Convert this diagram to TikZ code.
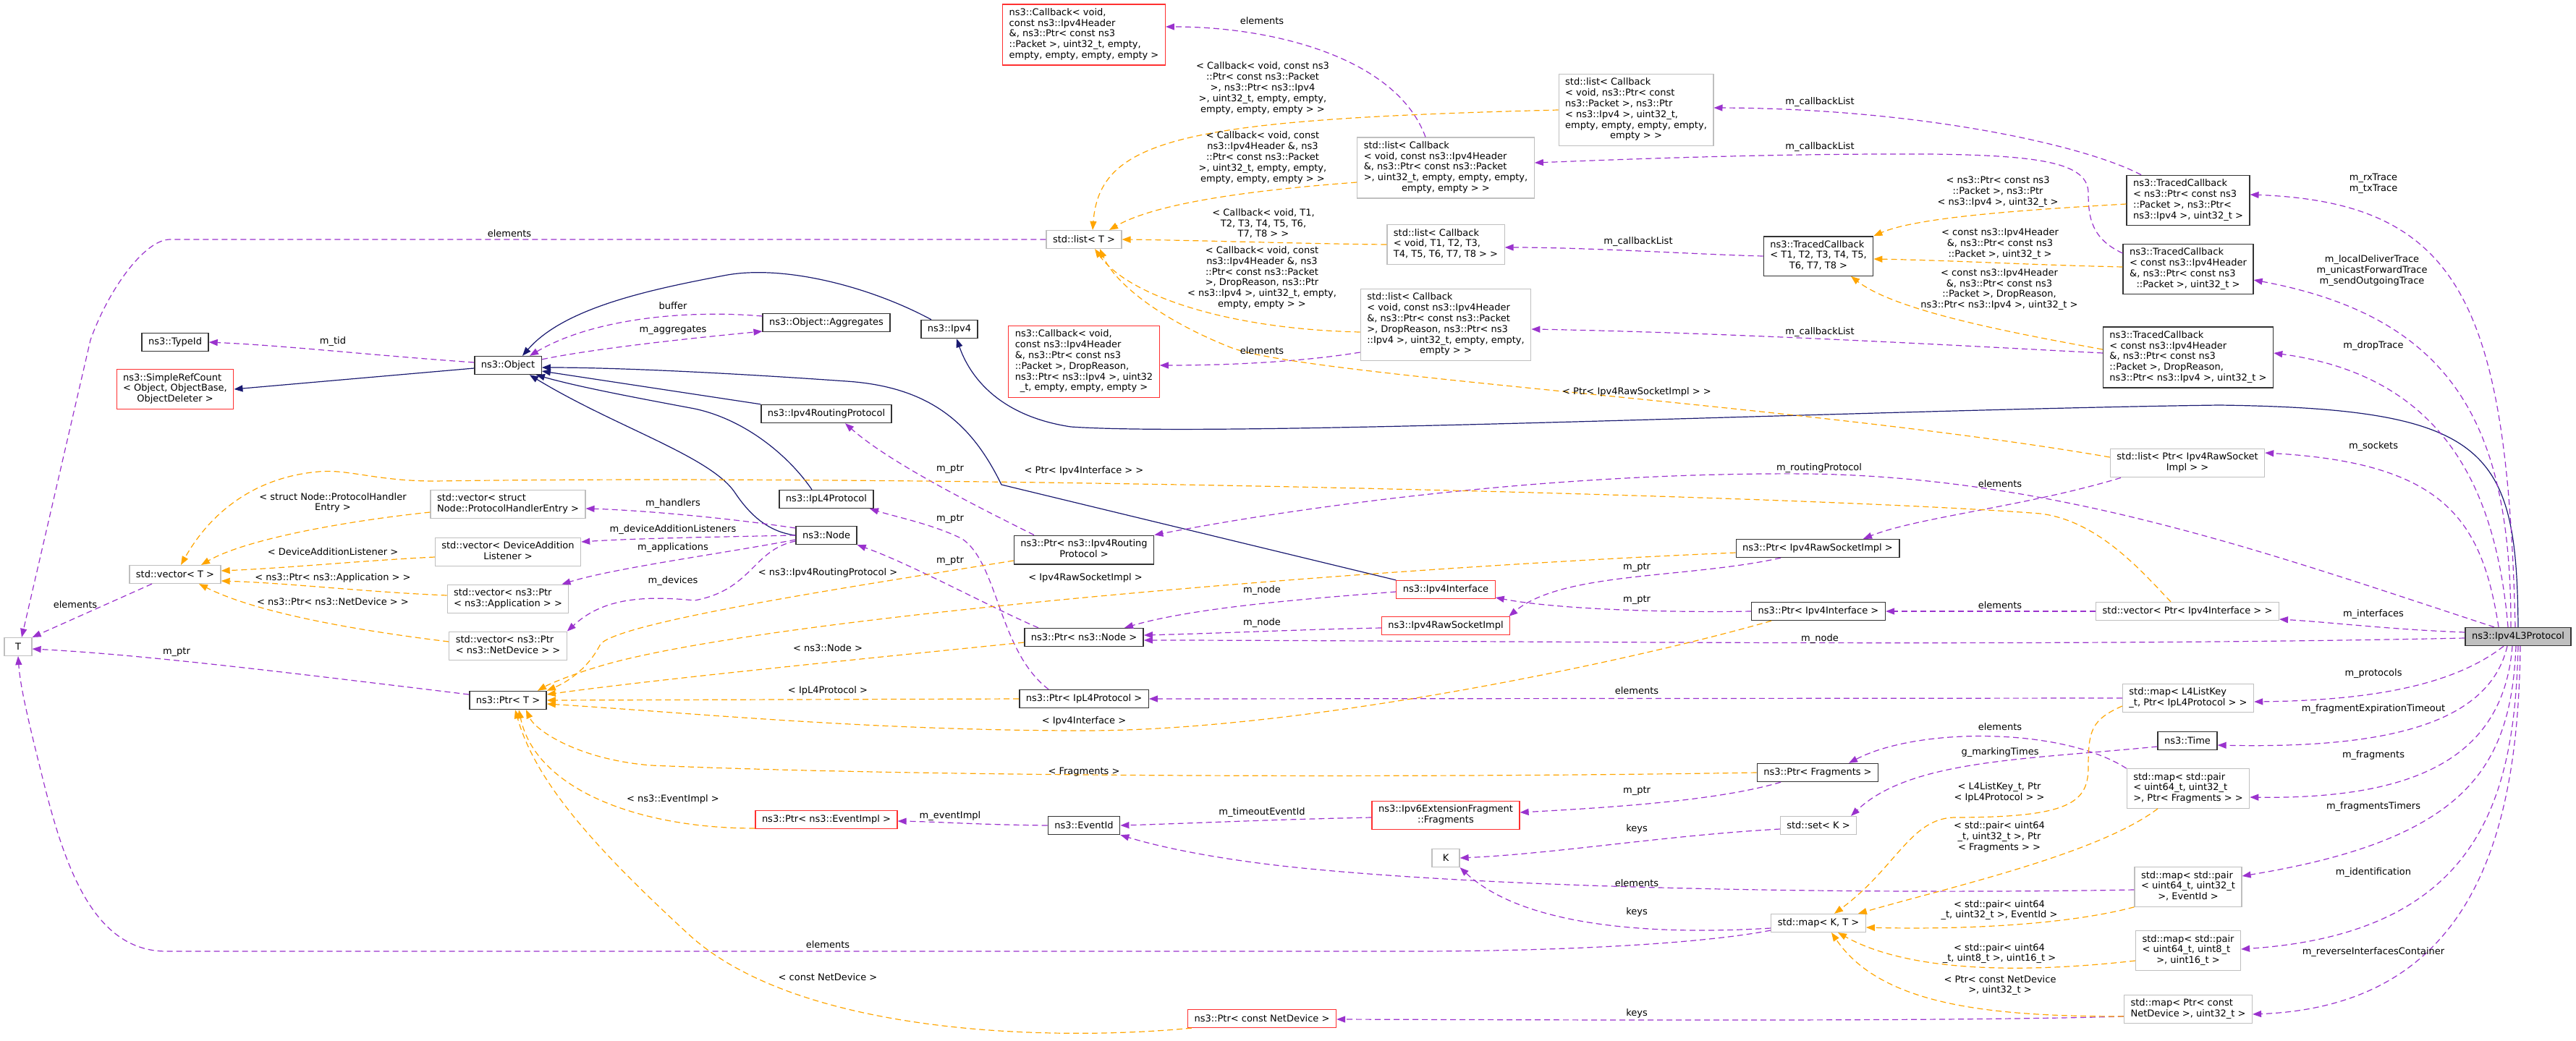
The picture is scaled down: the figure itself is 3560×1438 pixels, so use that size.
\documentclass[tikz,border=0pt]{standalone}
\usepackage{fontspec}
\setmainfont{DejaVu Sans}
\usetikzlibrary{arrows.meta}
\definecolor{inhblue}{HTML}{191970}
\definecolor{usepurple}{HTML}{9A32CD}
\definecolor{tmplorange}{HTML}{FFA500}
\definecolor{boxgray}{HTML}{BFBFBF}
\definecolor{boxred}{HTML}{FF3030}
\newcommand{\lines}[1]{\begin{tabular}{@{}l@{}}#1\end{tabular}}
\newcommand{\lastc}[1]{\multicolumn{1}{@{}c@{}}{#1}}

\begin{document}
\begin{tikzpicture}[x=1pt, y=-1pt,
  cls/.style={draw=black!80, line width=1.4pt, fill=white, font=\fontsize{13}{14.8}\selectfont,
    inner xsep=9pt, inner ysep=5pt, minimum height=25pt, minimum width=38pt},
  tpl/.style={cls, draw=boxgray, line width=1.2pt},
  undoc/.style={cls, draw=boxred, line width=1.2pt},
  focus/.style={cls, fill=boxgray},
  lbl/.style={font=\fontsize{13}{14.8}\selectfont, align=center, inner sep=0pt},
  inh/.style={draw=inhblue, line width=1.2pt, -{Triangle[length=12pt,width=9pt]}},
  member/.style={draw=usepurple, line width=1.2pt, dash pattern=on 8pt off 5pt, -{Triangle[length=12pt,width=9pt]}},
  inst/.style={member, draw=tmplorange}]
  \useasboundingbox (0,0) rectangle (3560,1438);

  % classes, right side
  \node[focus] (l3) at (3480,880) {ns3::Ipv4L3Protocol};
  \node[cls] (tcpkt) at (3024,277) {\lines{ns3::TracedCallback\\< ns3::Ptr< const ns3\\::Packet >, ns3::Ptr<\\\lastc{ns3::Ipv4 >, uint32\_t >}}};
  \node[cls] (tchdr) at (3024,372) {\lines{ns3::TracedCallback\\< const ns3::Ipv4Header\\\&, ns3::Ptr< const ns3\\\lastc{::Packet >, uint32\_t >}}};
  \node[cls] (tcdrop) at (3024,494) {\lines{ns3::TracedCallback\\< const ns3::Ipv4Header\\\&, ns3::Ptr< const ns3\\::Packet >, DropReason,\\\lastc{ns3::Ptr< ns3::Ipv4 >, uint32\_t >}}};
  \node[cls] (tcgen) at (2513,354) {\lines{ns3::TracedCallback\\< T1, T2, T3, T4, T5,\\\lastc{T6, T7, T8 >}}};
  \node[tpl] (lstpkt) at (2261,152) {\lines{std::list< Callback\\< void, ns3::Ptr< const\\ns3::Packet >, ns3::Ptr\\< ns3::Ipv4 >, uint32\_t,\\empty, empty, empty, empty,\\\lastc{empty > >}}};
  \node[tpl] (lsthdr) at (1998,232) {\lines{std::list< Callback\\< void, const ns3::Ipv4Header\\\&, ns3::Ptr< const ns3::Packet\\>, uint32\_t, empty, empty, empty,\\\lastc{empty, empty > >}}};
  \node[tpl] (lstgen) at (1998,338) {\lines{std::list< Callback\\< void, T1, T2, T3,\\\lastc{T4, T5, T6, T7, T8 > >}}};
  \node[tpl] (lstdrop) at (1998,449) {\lines{std::list< Callback\\< void, const ns3::Ipv4Header\\\&, ns3::Ptr< const ns3::Packet\\>, DropReason, ns3::Ptr< ns3\\::Ipv4 >, uint32\_t, empty, empty,\\\lastc{empty > >}}};
  \node[undoc] (cbhdr) at (1498,48) {\lines{ns3::Callback< void,\\const ns3::Ipv4Header\\\&, ns3::Ptr< const ns3\\::Packet >, uint32\_t, empty,\\\lastc{empty, empty, empty, empty >}}};
  \node[undoc] (cbdrop) at (1498,500) {\lines{ns3::Callback< void,\\const ns3::Ipv4Header\\\&, ns3::Ptr< const ns3\\::Packet >, DropReason,\\ns3::Ptr< ns3::Ipv4 >, uint32\\\lastc{\_t, empty, empty, empty >}}};
  \node[tpl] (lstT) at (1498,331) {std::list< T >};

  % classes, left side
  \node[cls] (object) at (702,505) {ns3::Object};
  \node[cls] (typeid) at (242,473) {ns3::TypeId};
  \node[undoc] (refcount) at (242,538) {\lines{ns3::SimpleRefCount\\< Object, ObjectBase,\\\lastc{ObjectDeleter >}}};
  \node[cls] (aggr) at (1142,446) {ns3::Object::Aggregates};
  \node[cls] (ipv4) at (1312,455) {ns3::Ipv4};
  \node[cls] (routing) at (1142,572) {ns3::Ipv4RoutingProtocol};
  \node[cls] (l4) at (1142,690) {ns3::IpL4Protocol};
  \node[cls] (nsnode) at (1142,740) {ns3::Node};
  \node[tpl] (vecT) at (242,794) {std::vector< T >};
  \node[tpl] (T) at (25,894) {T};
  \node[tpl] (vechandler) at (702,697) {\lines{std::vector< struct\\Node::ProtocolHandlerEntry >}};
  \node[tpl] (veclistener) at (702,763) {\lines{std::vector< DeviceAddition\\\lastc{Listener >}}};
  \node[tpl] (vecapp) at (702,828) {\lines{std::vector< ns3::Ptr\\< ns3::Application > >}};
  \node[tpl] (vecdev) at (702,893) {\lines{std::vector< ns3::Ptr\\< ns3::NetDevice > >}};
  \node[cls] (ptrT) at (702,968) {ns3::Ptr< T >};

  % classes, middle
  \node[cls] (ptrrouting) at (1498,760) {\lines{ns3::Ptr< ns3::Ipv4Routing\\\lastc{Protocol >}}};
  \node[cls] (ptrnode) at (1498,881) {ns3::Ptr< ns3::Node >};
  \node[cls] (ptrl4) at (1498,966) {ns3::Ptr< IpL4Protocol >};
  \node[undoc] (iface) at (1998,815) {ns3::Ipv4Interface};
  \node[undoc] (rawsock) at (1998,865) {ns3::Ipv4RawSocketImpl};
  \node[cls] (ptrrawsock) at (2512,758) {ns3::Ptr< Ipv4RawSocketImpl >};
  \node[cls] (ptriface) at (2513,845) {ns3::Ptr< Ipv4Interface >};
  \node[tpl] (lstsock) at (3023,640) {\lines{std::list< Ptr< Ipv4RawSocket\\\lastc{Impl > >}}};
  \node[tpl] (veciface) at (3023,845) {std::vector< Ptr< Ipv4Interface > >};
  \node[tpl] (mapl4) at (3024,965) {\lines{std::map< L4ListKey\\\_t, Ptr< IpL4Protocol > >}};
  \node[cls] (time) at (3023,1024) {ns3::Time};
  \node[tpl] (mapfrag) at (3024,1090) {\lines{std::map< std::pair\\< uint64\_t, uint32\_t\\>, Ptr< Fragments > >}};
  \node[tpl] (maptimer) at (3024,1226) {\lines{std::map< std::pair\\< uint64\_t, uint32\_t\\\lastc{>, EventId >}}};
  \node[tpl] (mapident) at (3024,1314) {\lines{std::map< std::pair\\< uint64\_t, uint8\_t\\\lastc{>, uint16\_t >}}};
  \node[tpl] (mapdev) at (3024,1395) {\lines{std::map< Ptr< const\\NetDevice >, uint32\_t >}};
  \node[cls] (ptrfrag) at (2512,1068) {ns3::Ptr< Fragments >};
  \node[undoc] (frag) at (1998,1127) {\lines{ns3::Ipv6ExtensionFragment\\\lastc{::Fragments}}};
  \node[tpl] (setK) at (2513,1141) {std::set< K >};
  \node[tpl] (K) at (1998,1186) {K};
  \node[tpl] (mapKT) at (2513,1276) {std::map< K, T >};
  \node[cls] (eventid) at (1498,1141) {ns3::EventId};
  \node[undoc] (ptrevent) at (1142,1133) {ns3::Ptr< ns3::EventImpl >};
  \node[undoc] (ptrdev) at (1744,1408) {ns3::Ptr< const NetDevice >};

  % inheritance
  \draw[inh] ([yshift=-4]object.west) -- (refcount.east);
  \draw[inh] ([xshift=-25]ipv4.north) .. controls (1200,395) and (1080,365) .. (1000,381) .. controls (900,400) and (780,425) .. ([xshift=20]object.north);
  \draw[inh] (routing.north west) -- ([yshift=-8]object.east);
  \draw[inh] ([xshift=-20]l4.north) .. controls (1090,630) and (1030,580) .. (960,565) .. controls (880,550) and (800,535) .. ([xshift=-8]object.south east);
  \draw[inh] (nsnode.west) .. controls (1060,735) and (1035,710) .. (1015,680) .. controls (980,630) and (850,590) .. ([xshift=-17]object.south east);
  \draw[inh] (iface.north west) -- (1384,670) .. controls (1345,590) and (1290,535) .. (1170,527) .. controls (1000,515) and (850,508) .. ([yshift=-3]object.east);
  \draw[inh] (l3.north) .. controls (3478,620) and (3440,565) .. (3067,560) .. controls (2600,566) and (1700,605) .. (1480,590) .. controls (1380,575) and (1340,520) .. ([xshift=10]ipv4.south);

  % members
  \draw[member] ([yshift=4]object.west) .. controls (500,490) and (400,478) .. (typeid.east);
  \draw[member] ([yshift=-5]object.north east) .. controls (820,482) and (950,468) .. ([yshift=-12]aggr.west);
  \draw[member] ([yshift=9]aggr.west) .. controls (950,428) and (820,440) .. ([xshift=30]object.north);
  \draw[member] (lstT.west) -- (235,331) .. controls (200,331) and (150,400) .. (125,470) -- ([xshift=5]T.north);
  \draw[member] ([xshift=-32]vecT.south) -- (T.north east);
  \draw[member] ([yshift=8]ptrT.west) .. controls (400,930) and (200,905) .. ([yshift=-3]T.east);
  \draw[member] ([yshift=-10]mapKT.west) .. controls (2350,1305) and (2150,1315) .. (1950,1315) -- (230,1315) .. controls (130,1315) and (90,1200) .. (60,1080) .. controls (40,1000) and (28,950) .. (T.south);
  \draw[member] ([yshift=-7]mapKT.west) .. controls (2300,1292) and (2110,1285) .. (K.south east);
  \draw[member] ([yshift=-5]setK.west) .. controls (2300,1155) and (2150,1180) .. (K.east);
  \draw[member] ([xshift=-28]lsthdr.north) .. controls (1930,80) and (1760,37) .. ([yshift=11]cbhdr.east);
  \draw[member] ([yshift=-38]lstdrop.west) .. controls (1800,500) and (1700,505) .. ([yshift=-5]cbdrop.east);
  \draw[member] ([xshift=-65]tcpkt.north) .. controls (2880,200) and (2650,150) .. ([yshift=3]lstpkt.east);
  \draw[member] ([yshift=22]tchdr.west) .. controls (2890,330) and (2886,300) .. (2886,267) .. controls (2886,225) and (2820,215) .. (2670,213) .. controls (2450,212) and (2250,220) .. ([yshift=7]lsthdr.east);
  \draw[member] (tcgen.west) .. controls (2350,352) and (2200,342) .. ([yshift=-4]lstgen.east);
  \draw[member] ([yshift=6]tcdrop.west) .. controls (2750,480) and (2400,460) .. ([yshift=-6]lstdrop.east);
  \draw[member] ([xshift=-4]l3.north) .. controls (3465,420) and (3400,280) .. ([yshift=8]tcpkt.east);
  \draw[member] ([xshift=-10]l3.north) .. controls (3470,600) and (3400,440) .. ([yshift=-15]tchdr.east);
  \draw[member] ([xshift=-14]l3.north) .. controls (3450,680) and (3380,520) .. ([yshift=6]tcdrop.east);
  \draw[member] ([xshift=-27]l3.north) .. controls (3430,720) and (3380,640) .. ([yshift=14]lstsock.east);
  \draw[member] ([xshift=-33]l3.north) .. controls (3150,770) and (2850,660) .. (2500,655) .. controls (2150,652) and (1800,700) .. (ptrrouting.north east);
  \draw[member] ([xshift=-69]ptrrouting.north) .. controls (1350,700) and (1230,640) .. ([xshift=26]routing.south);
  \draw[member] ([xshift=-49]ptrl4.north) .. controls (1380,900) and (1380,780) .. (1330,745) .. controls (1290,725) and (1240,715) .. ([xshift=60]l4.south);
  \draw[member] ([xshift=-63]ptrnode.north) .. controls (1370,840) and (1260,780) .. (nsnode.south east);
  \draw[member] ([yshift=10]nsnode.west) .. controls (1000,715) and (880,705) .. ([yshift=-6]vechandler.east);
  \draw[member] (nsnode.west) .. controls (1000,742) and (880,744) .. ([yshift=14]veclistener.east);
  \draw[member] ([yshift=-6]nsnode.west) .. controls (1000,765) and (850,785) .. ([xshift=-10]vecapp.north east);
  \draw[member] ([yshift=-8]nsnode.west) .. controls (1040,760) and (1040,815) .. (960,830) .. controls (880,822) and (830,830) .. (vecdev.north east);
  \draw[member] ([yshift=-3]iface.west) .. controls (1800,828) and (1650,840) .. ([xshift=56]ptrnode.north);
  \draw[member] ([yshift=-3]rawsock.west) .. controls (1800,870) and (1700,875) .. ([yshift=3]ptrnode.east);
  \draw[member] ([yshift=-2]l3.west) .. controls (2800,895) and (2000,885) .. ([yshift=-4]ptrnode.east);
  \draw[member] ([xshift=-51]ptrrawsock.south) .. controls (2330,800) and (2160,790) .. ([xshift=-2]rawsock.north east);
  \draw[member] (ptriface.west) .. controls (2300,847) and (2150,842) .. ([yshift=-11]iface.east);
  \draw[member] (veciface.west) -- (ptriface.east);
  \draw[member] ([xshift=-92]lstsock.south) .. controls (2800,700) and (2650,715) .. ([xshift=63]ptrrawsock.north);
  \draw[member] ([yshift=6]l3.west) .. controls (3300,870) and (3220,860) .. ([yshift=-11]veciface.east);
  \draw[member] ([xshift=-20]l3.south) .. controls (3400,940) and (3300,968) .. ([yshift=-5]mapl4.east);
  \draw[member] (mapl4.west) -- (ptrl4.east);
  \draw[member] ([xshift=-15]l3.south) .. controls (3440,1000) and (3300,1035) .. ([yshift=-6]time.east);
  \draw[member] ([xshift=-8]l3.south) .. controls (3460,1040) and (3350,1105) .. ([yshift=-12]mapfrag.east);
  \draw[member] ([xshift=-3]l3.south) .. controls (3470,1060) and (3410,1160) .. ([yshift=15]maptimer.east);
  \draw[member] (l3.south) .. controls (3475,1100) and (3430,1290) .. ([yshift=2]mapident.east);
  \draw[member] ([xshift=3]l3.south) .. controls (3480,1150) and (3420,1390) .. ([yshift=-7]mapdev.east);
  \draw[member] (mapfrag.north west) .. controls (2850,1005) and (2650,1005) .. ([xshift=43]ptrfrag.north);
  \draw[member] ([yshift=-8]time.west) .. controls (2800,1050) and (2640,1050) .. ([xshift=45]setK.north);
  \draw[member] ([xshift=-51]ptrfrag.south) .. controls (2380,1105) and (2250,1115) .. ([yshift=4]frag.east);
  \draw[member] ([yshift=-3]frag.west) .. controls (1750,1133) and (1650,1138) .. (eventid.east);
  \draw[member] (eventid.west) .. controls (1350,1140) and (1300,1136) .. ([yshift=-2]ptrevent.east);
  \draw[member] ([yshift=-4]maptimer.west) .. controls (2600,1236) and (2100,1230) .. (1800,1200) .. controls (1680,1188) and (1600,1170) .. (eventid.south east);
  \draw[member] ([yshift=-10]mapdev.west) .. controls (2700,1412) and (2200,1410) .. ([yshift=-1]ptrdev.east);

  % template instances
  \draw[inst] (lstpkt.west) .. controls (1640,165) and (1520,190) .. ([xshift=12]lstT.north);
  \draw[inst] ([yshift=-20]lsthdr.west) .. controls (1700,265) and (1590,285) .. ([xshift=35]lstT.north);
  \draw[inst] (lstgen.west) .. controls (1800,337) and (1650,332) .. (lstT.east);
  \draw[inst] ([yshift=-10]lstdrop.west) .. controls (1700,455) and (1560,410) .. ([xshift=15]lstT.south);
  \draw[inst] ([yshift=8]lstsock.west) .. controls (2500,560) and (1800,520) .. (1700,480) .. controls (1600,440) and (1540,390) .. ([xshift=22]lstT.south);
  \draw[inst] ([yshift=-5]tcpkt.west) .. controls (2800,290) and (2650,300) .. (tcgen.north east);
  \draw[inst] ([yshift=3]tchdr.west) .. controls (2800,366) and (2700,360) .. ([yshift=-4]tcgen.east);
  \draw[inst] ([yshift=11]tcdrop.west) .. controls (2780,460) and (2620,430) .. ([xshift=45]tcgen.south);
  \draw[inst] ([yshift=-11]vechandler.west) .. controls (480,720) and (340,745) .. ([xshift=36]vecT.north);
  \draw[inst] ([xshift=-23]veciface.north) .. controls (2960,790) and (2900,720) .. (2820,710) .. controls (2500,685) and (1300,655) .. (600,665) .. controls (520,665) and (480,648) .. (440,652) .. controls (350,660) and (290,710) .. ([xshift=8]vecT.north);
  \draw[inst] ([yshift=-7]veclistener.west) .. controls (500,775) and (400,785) .. ([yshift=5]vecT.east);
  \draw[inst] ([yshift=5]vecapp.west) .. controls (500,818) and (400,806) .. ([yshift=-9]vecT.east);
  \draw[inst] ([yshift=6]vecdev.west) .. controls (480,870) and (350,845) .. ([xshift=33]vecT.south);
  \draw[inst] ([yshift=-15]ptrrouting.west) .. controls (1150,815) and (860,860) .. (830,890) .. controls (815,920) and (790,940) .. (ptrT.north east);
  \draw[inst] ([yshift=-6]ptrrawsock.west) .. controls (1900,785) and (1100,850) .. (850,915) .. controls (800,928) and (760,945) .. ([xshift=41]ptrT.north);
  \draw[inst] ([yshift=-7]ptrnode.west) .. controls (1150,915) and (900,940) .. ([yshift=8]ptrT.east);
  \draw[inst] (ptrl4.west) -- (ptrT.east);
  \draw[inst] ([xshift=-65]ptriface.south) .. controls (2250,915) and (1800,1010) .. (1500,1010) .. controls (1200,1010) and (950,985) .. ([yshift=-5]ptrT.east);
  \draw[inst] (ptrfrag.west) .. controls (2000,1075) and (1300,1075) .. (900,1058) .. controls (800,1050) and (740,1010) .. ([xshift=25]ptrT.south);
  \draw[inst] ([yshift=-12]ptrevent.west) .. controls (880,1145) and (740,1090) .. ([xshift=15]ptrT.south);
  \draw[inst] ([xshift=6]ptrdev.south west) .. controls (1450,1440) and (1100,1430) .. (950,1290) .. controls (820,1170) and (740,1080) .. ([xshift=10]ptrT.south);
  \draw[inst] ([yshift=-11]mapl4.west) .. controls (2890,995) and (2886,1010) .. (2886,1060) .. controls (2886,1110) and (2860,1130) .. (2700,1130) .. controls (2640,1132) and (2620,1200) .. ([xshift=22]mapKT.north);
  \draw[inst] ([xshift=-42]mapfrag.south) .. controls (2900,1180) and (2700,1225) .. ([xshift=-11]mapKT.north east);
  \draw[inst] (maptimer.south west) .. controls (2850,1280) and (2700,1285) .. ([yshift=-6]mapKT.east);
  \draw[inst] ([yshift=-14]mapident.west) .. controls (2800,1345) and (2640,1345) .. ([xshift=27]mapKT.south);
  \draw[inst] ([yshift=-10]mapdev.west) .. controls (2750,1405) and (2600,1390) .. ([xshift=18]mapKT.south);

  % edge labels
  \node[lbl] (lb01) at (704,323) {elements};
  \node[lbl] (lb02) at (460,472) {m\_tid};
  \node[lbl] (lb03) at (930,423) {buffer};
  \node[lbl] (lb04) at (930,456) {m\_aggregates};
  \node[lbl] (lb05) at (104,836) {elements};
  \node[lbl] (lb06) at (244,901) {m\_ptr};
  \node[lbl] (lb07) at (460,695) {< struct Node::ProtocolHandler\\Entry >};
  \node[lbl] (lb08) at (460,763) {< DeviceAdditionListener >};
  \node[lbl] (lb09) at (460,799) {< ns3::Ptr< ns3::Application > >};
  \node[lbl] (lb10) at (460,832) {< ns3::Ptr< ns3::NetDevice > >};
  \node[lbl] (lb11) at (930,696) {m\_handlers};
  \node[lbl] (lb12) at (930,732) {m\_deviceAdditionListeners};
  \node[lbl] (lb13) at (930,757) {m\_applications};
  \node[lbl] (lb14) at (930,803) {m\_devices};
  \node[lbl] (lb15) at (1144,792) {< ns3::Ipv4RoutingProtocol >};
  \node[lbl] (lb16) at (1144,896) {< ns3::Node >};
  \node[lbl] (lb17) at (1144,955) {< IpL4Protocol >};
  \node[lbl] (lb18) at (930,1105) {< ns3::EventImpl >};
  \node[lbl] (lb19) at (1313,1128) {m\_eventImpl};
  \node[lbl] (lb20) at (1144,1306) {elements};
  \node[lbl] (lb21) at (1144,1351) {< const NetDevice >};
  \node[lbl] (lb22) at (1313,648) {m\_ptr};
  \node[lbl] (lb23) at (1313,717) {m\_ptr};
  \node[lbl] (lb24) at (1313,775) {m\_ptr};
  \node[lbl] (lb25) at (1498,651) {< Ptr< Ipv4Interface > >};
  \node[lbl] (lb26) at (1500,799) {< Ipv4RawSocketImpl >};
  \node[lbl] (lb27) at (1498,997) {< Ipv4Interface >};
  \node[lbl] (lb28) at (1498,1067) {< Fragments >};
  \node[lbl] (lb29) at (1744,29) {elements};
  \node[lbl] (lb30) at (1745,122) {< Callback< void, const ns3\\::Ptr< const ns3::Packet\\>, ns3::Ptr< ns3::Ipv4\\>, uint32\_t, empty, empty,\\empty, empty, empty > >};
  \node[lbl] (lb31) at (1745,218) {< Callback< void, const\\ns3::Ipv4Header \&, ns3\\::Ptr< const ns3::Packet\\>, uint32\_t, empty, empty,\\empty, empty, empty > >};
  \node[lbl] (lb32) at (1746,309) {< Callback< void, T1,\\T2, T3, T4, T5, T6,\\T7, T8 > >};
  \node[lbl] (lb33) at (1744,384) {< Callback< void, const\\ns3::Ipv4Header \&, ns3\\::Ptr< const ns3::Packet\\>, DropReason, ns3::Ptr\\< ns3::Ipv4 >, uint32\_t, empty,\\empty, empty > >};
  \node[lbl] (lb34) at (1744,485) {elements};
  \node[lbl] (lb35) at (1744,816) {m\_node};
  \node[lbl] (lb36) at (1744,861) {m\_node};
  \node[lbl] (lb37) at (1744,1123) {m\_timeoutEventId};
  \node[lbl] (lb38) at (2262,542) {< Ptr< Ipv4RawSocketImpl > >};
  \node[lbl] (lb39) at (2515,141) {m\_callbackList};
  \node[lbl] (lb40) at (2515,203) {m\_callbackList};
  \node[lbl] (lb41) at (2264,334) {m\_callbackList};
  \node[lbl] (lb42) at (2515,459) {m\_callbackList};
  \node[lbl] (lb43) at (2514,647) {m\_routingProtocol};
  \node[lbl] (lb44) at (2262,784) {m\_ptr};
  \node[lbl] (lb45) at (2262,829) {m\_ptr};
  \node[lbl] (lb46) at (2515,883) {m\_node};
  \node[lbl] (lb47) at (2262,955) {elements};
  \node[lbl] (lb48) at (2262,1093) {m\_ptr};
  \node[lbl] (lb49) at (2262,1146) {keys};
  \node[lbl] (lb50) at (2262,1221) {elements};
  \node[lbl] (lb51) at (2262,1261) {keys};
  \node[lbl] (lb52) at (2262,1401) {keys};
  \node[lbl] (lb53) at (2761,265) {< ns3::Ptr< const ns3\\::Packet >, ns3::Ptr\\< ns3::Ipv4 >, uint32\_t >};
  \node[lbl] (lb54) at (2764,337) {< const ns3::Ipv4Header\\\&, ns3::Ptr< const ns3\\::Packet >, uint32\_t >};
  \node[lbl] (lb55) at (2763,400) {< const ns3::Ipv4Header\\\&, ns3::Ptr< const ns3\\::Packet >, DropReason,\\ns3::Ptr< ns3::Ipv4 >, uint32\_t >};
  \node[lbl] (lb56) at (2764,669) {elements};
  \node[lbl] (lb57) at (2764,837) {elements};
  \node[lbl] (lb58) at (2764,1005) {elements};
  \node[lbl] (lb59) at (2764,1040) {g\_markingTimes};
  \node[lbl] (lb60) at (2763,1095) {< L4ListKey\_t, Ptr\\< IpL4Protocol > >};
  \node[lbl] (lb61) at (2763,1157) {< std::pair< uint64\\\_t, uint32\_t >, Ptr\\< Fragments > >};
  \node[lbl] (lb62) at (2763,1258) {< std::pair< uint64\\\_t, uint32\_t >, EventId >};
  \node[lbl] (lb63) at (2763,1318) {< std::pair< uint64\\\_t, uint8\_t >, uint16\_t >};
  \node[lbl] (lb64) at (2764,1362) {< Ptr< const NetDevice\\>, uint32\_t >};
  \node[lbl] (lb65) at (3280,254) {m\_rxTrace\\m\_txTrace};
  \node[lbl] (lb66) at (3278,374) {m\_localDeliverTrace\\m\_unicastForwardTrace\\m\_sendOutgoingTrace};
  \node[lbl] (lb67) at (3280,478) {m\_dropTrace};
  \node[lbl] (lb68) at (3280,617) {m\_sockets};
  \node[lbl] (lb69) at (3280,849) {m\_interfaces};
  \node[lbl] (lb70) at (3280,931) {m\_protocols};
  \node[lbl] (lb71) at (3280,980) {m\_fragmentExpirationTimeout};
  \node[lbl] (lb72) at (3280,1044) {m\_fragments};
  \node[lbl] (lb73) at (3280,1115) {m\_fragmentsTimers};
  \node[lbl] (lb74) at (3280,1206) {m\_identification};
  \node[lbl] (lb75) at (3280,1316) {m\_reverseInterfacesContainer};
\end{tikzpicture}
\end{document}
